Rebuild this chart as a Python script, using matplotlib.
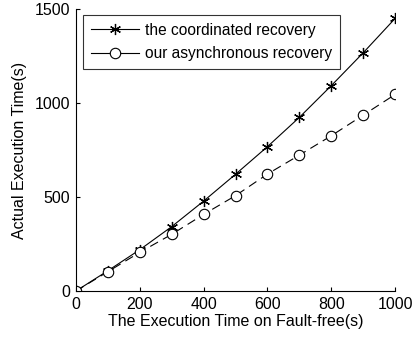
import numpy as np
import matplotlib
matplotlib.use("Agg")
import matplotlib.pyplot as plt
from matplotlib.lines import Line2D

plt.rcParams['font.family'] = ['Liberation Sans', 'DejaVu Sans']

# data
fault_free = [0, 100, 200, 300, 400, 500, 600, 700, 800, 900, 1000]
coordinated = [0, 108, 220, 343, 479, 622, 769, 925, 1094, 1269, 1452]
asynchronous = [0, 103, 206, 302, 408, 508, 623, 724, 827, 937, 1047]
labels = ['the coordinated recovery', 'our asynchronous recovery']

fig = plt.figure(figsize=(4.15, 3.38), dpi=100)
ax = fig.add_axes([0.183, 0.139, 0.769, 0.833])

ax.plot(fault_free, coordinated, color='black', lw=0.8,
        marker=(6, 2, 0), ms=8, mew=0.9)
ax.plot(fault_free, asynchronous, color='black', lw=0.8, ls=(0, (8, 5)),
        marker='o', ms=7.5, mfc='white', mec='black', mew=0.8)

ax.set_xlim(0, 1000)
ax.set_ylim(0, 1500)
ax.set_xticks([0, 200, 400, 600, 800, 1000])
ax.set_yticks([0, 500, 1000, 1500])
ax.spines['top'].set_visible(False)
ax.spines['right'].set_visible(False)
ax.tick_params(direction='in', length=3, labelsize=11.5, pad=4)
ax.set_xlabel('The Execution Time on Fault-free(s)', fontsize=11.5, labelpad=2)
ax.set_ylabel('Actual Execution Time(s)', fontsize=11.5, labelpad=6)

handles = [
    Line2D([], [], color='black', lw=0.8, marker=(6, 2, 0), ms=8, mew=0.9),
    Line2D([], [], color='black', lw=0.8, marker='o', ms=7.5,
           mfc='white', mec='black', mew=0.8),
]
leg = ax.legend(handles, labels, loc='upper left', bbox_to_anchor=(0.022, 0.98),
                borderaxespad=0, fontsize=11.2, frameon=True, fancybox=False,
                handlelength=3.1, borderpad=0.5, labelspacing=0.55,
                handletextpad=0.4)
leg.get_frame().set_edgecolor('black')
leg.get_frame().set_linewidth(0.8)

fig.savefig('out.png', dpi=100)
